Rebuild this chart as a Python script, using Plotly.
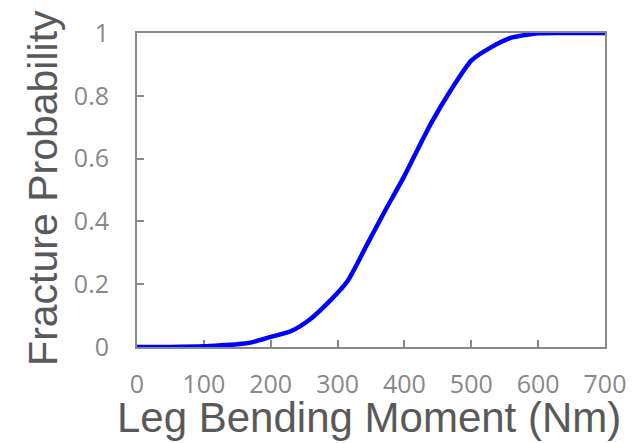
import plotly.graph_objects as go

moment_nm = [0, 50, 100, 130, 150, 170, 200, 230, 257, 290, 315, 345, 370, 400,
             420, 440, 470, 500, 530, 560, 600, 650, 700]
fracture_prob = [0, 0, 0.002, 0.006, 0.009, 0.014, 0.032, 0.05, 0.085, 0.15, 0.21,
                 0.33, 0.43, 0.545, 0.63, 0.713, 0.82, 0.912, 0.955, 0.985, 0.999,
                 1.0, 1.0]
x_ticks = [0, 100, 200, 300, 400, 500, 600, 700]
y_ticks = [0, 0.2, 0.4, 0.6, 0.8, 1]
y_tick_labels = ["0", "0.2", "0.4", "0.6", "0.8", "1"]
x_title = "Leg Bending Moment (Nm)"
y_title = "Fracture Probability"

fig = go.Figure()
fig.add_trace(go.Scatter(
    x=moment_nm, y=fracture_prob, mode="lines",
    line=dict(color="#0000FF", width=4.5, shape="spline", smoothing=0.6),
    cliponaxis=False, showlegend=False,
))

axis_common = dict(
    showgrid=False, zeroline=False, showline=True, linecolor="#888888",
    linewidth=2, mirror=True, ticks="inside", ticklen=7, tickwidth=2,
    tickcolor="#888888", layer="below traces", automargin=False,
    tickfont=dict(family="Open Sans", size=25, color="#888888"),
)

fig.update_layout(
    width=639, height=443,
    margin=dict(l=129, r=42, t=25, b=104),
    paper_bgcolor="white", plot_bgcolor="white",
    xaxis=dict(range=[0, 700], tickvals=x_ticks, ticklabelstandoff=14,
               **axis_common),
    yaxis=dict(range=[0, 1], tickvals=y_ticks, ticktext=y_tick_labels,
               ticklabelstandoff=21, **axis_common),
    annotations=[
        dict(text=x_title, xref="paper", yref="paper", x=0.496, y=-0.224,
             xanchor="center", yanchor="middle", showarrow=False,
             font=dict(family="Liberation Sans", size=42, color="#595959")),
        dict(text=y_title, xref="paper", yref="paper", x=-0.2, y=0.508,
             xanchor="center", yanchor="middle", textangle=-90, showarrow=False,
             font=dict(family="Liberation Sans", size=41, color="#595959")),
    ],
)

fig.write_html("out.html")
